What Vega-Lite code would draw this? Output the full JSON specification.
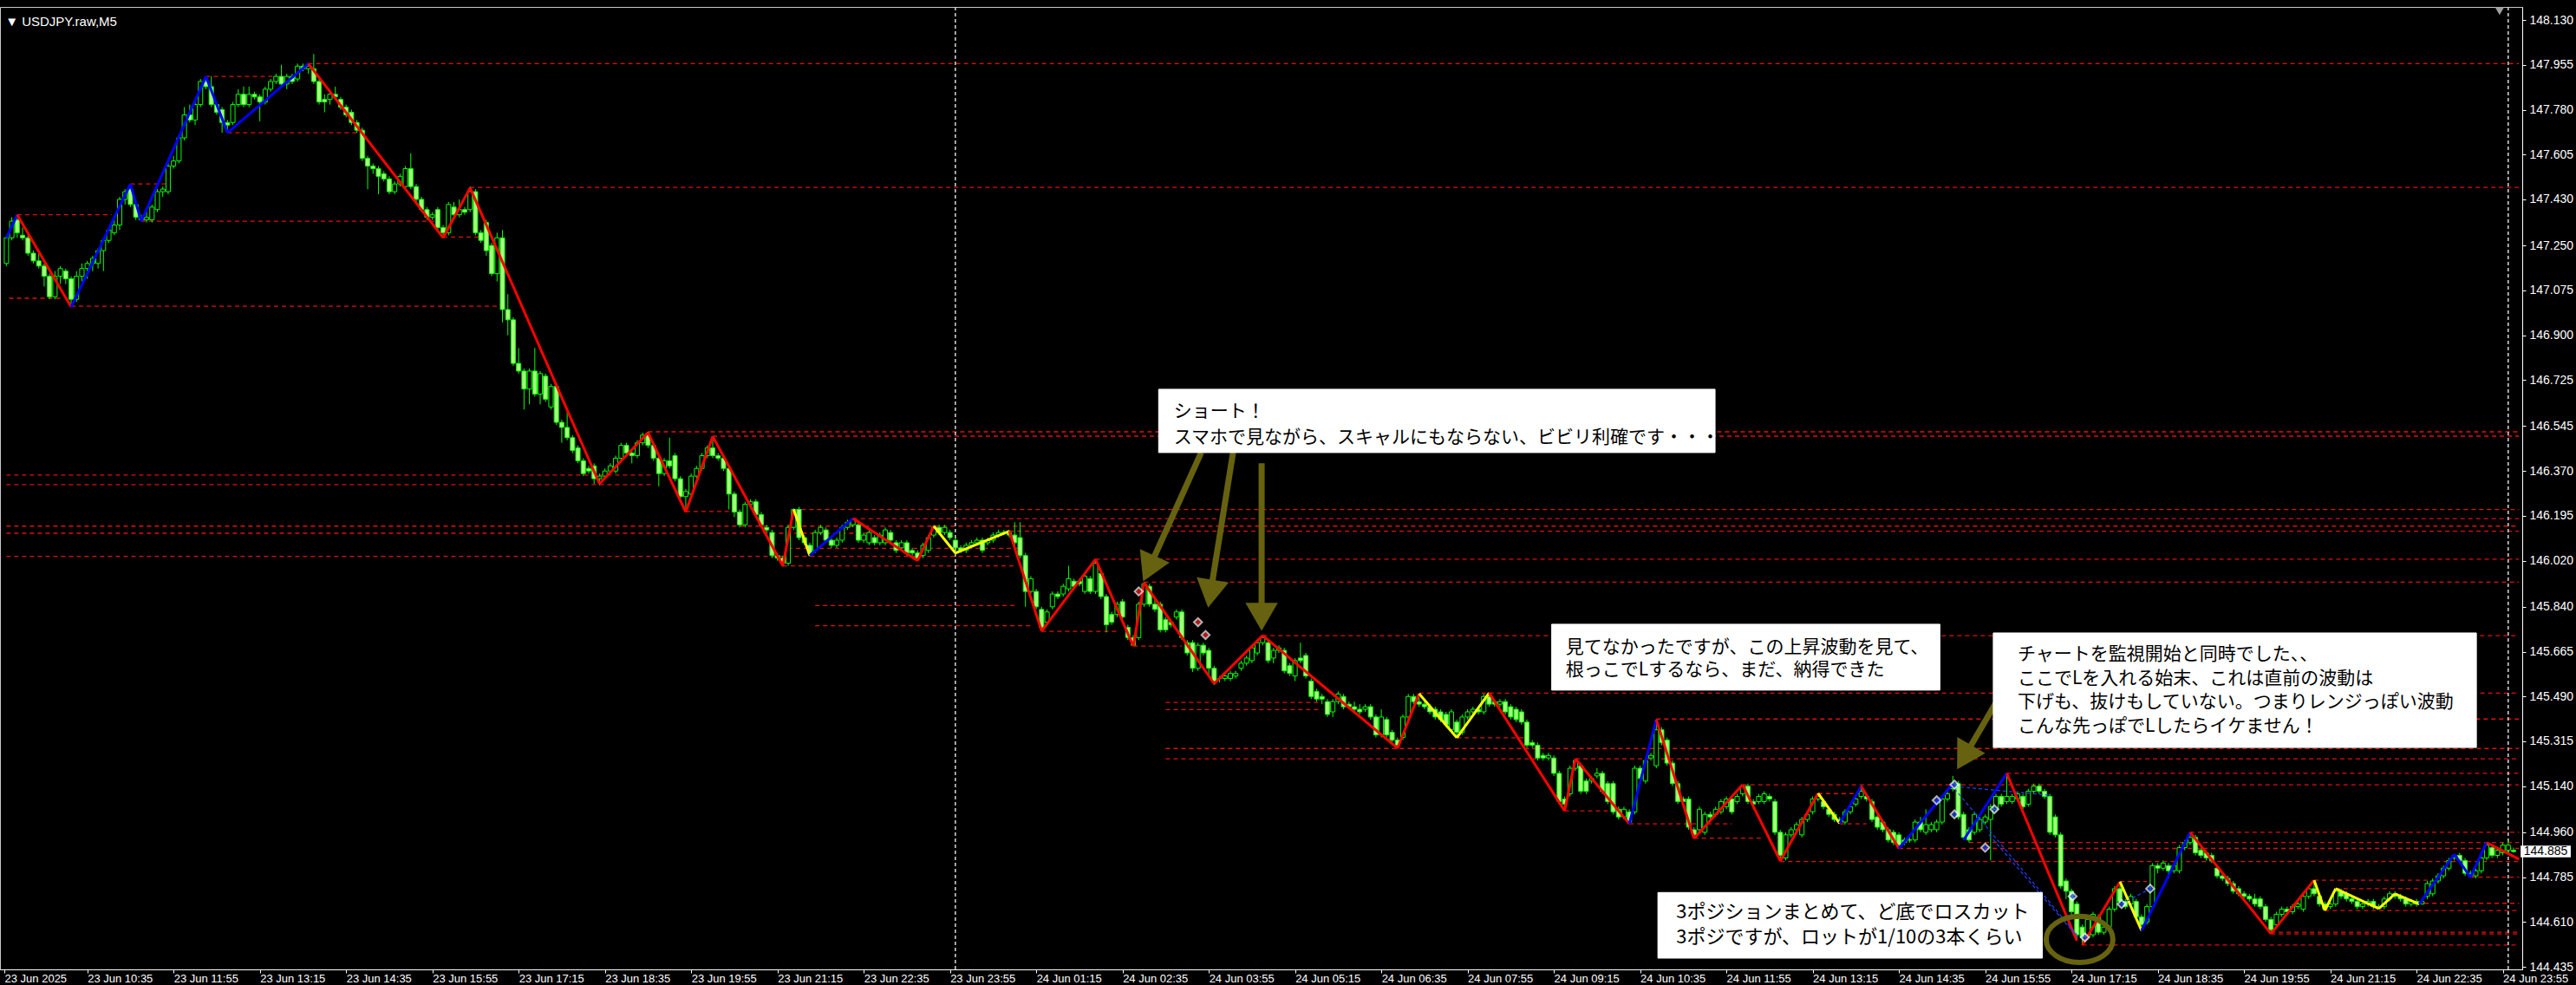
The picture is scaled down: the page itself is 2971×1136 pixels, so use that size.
{
"$schema":"https://vega.github.io/schema/vega-lite/v6.json",
"width":2909,"height":1110,
"autosize":{"type":"none"},
"padding":{"left":0,"top":8,"right":62,"bottom":18},
"background":"#000000",
"view":{"stroke":"#c8c8c8","strokeWidth":1},
"config":{"axis":{"grid":false}},
"datasets":{
"cd":[
{"i":0,"o":147.18,"h":147.29,"l":147.17,"c":147.28},{"i":1,"o":147.28,"h":147.36,"l":147.27,"c":147.345},{"i":2,"o":147.35,"h":147.37,"l":147.28,"c":147.30},{"i":3,"o":147.29,"h":147.32,"l":147.27,"c":147.28},{"i":4,"o":147.28,"h":147.30,"l":147.21,"c":147.22},{"i":5,"o":147.22,"h":147.23,"l":147.18,"c":147.19},{"i":6,"o":147.19,"h":147.23,"l":147.16,"c":147.17},{"i":7,"o":147.17,"h":147.18,"l":147.09,"c":147.13},{"i":8,"o":147.13,"h":147.14,"l":147.04,"c":147.05},{"i":9,"o":147.05,"h":147.15,"l":147.04,"c":147.13},
{"i":10,"o":147.13,"h":147.17,"l":147.10,"c":147.16},{"i":11,"o":147.15,"h":147.16,"l":147.10,"c":147.12},{"i":12,"o":147.12,"h":147.13,"l":147.01,"c":147.04},{"i":13,"o":147.04,"h":147.15,"l":147.03,"c":147.13},{"i":14,"o":147.13,"h":147.18,"l":147.11,"c":147.16},{"i":15,"o":147.16,"h":147.19,"l":147.12,"c":147.18},{"i":16,"o":147.18,"h":147.21,"l":147.15,"c":147.20},{"i":17,"o":147.18,"h":147.24,"l":147.16,"c":147.23},{"i":18,"o":147.23,"h":147.28,"l":147.15,"c":147.27},{"i":19,"o":147.27,"h":147.32,"l":147.26,"c":147.31},
{"i":20,"o":147.30,"h":147.35,"l":147.29,"c":147.33},{"i":21,"o":147.33,"h":147.44,"l":147.31,"c":147.43},{"i":22,"o":147.43,"h":147.47,"l":147.41,"c":147.46},{"i":23,"o":147.47,"h":147.49,"l":147.40,"c":147.41},{"i":24,"o":147.41,"h":147.42,"l":147.35,"c":147.36},{"i":25,"o":147.36,"h":147.37,"l":147.345,"c":147.35},{"i":26,"o":147.35,"h":147.38,"l":147.34,"c":147.36},{"i":27,"o":147.35,"h":147.41,"l":147.34,"c":147.40},{"i":28,"o":147.39,"h":147.47,"l":147.38,"c":147.46},{"i":29,"o":147.46,"h":147.48,"l":147.44,"c":147.47},
{"i":30,"o":147.46,"h":147.57,"l":147.45,"c":147.56},{"i":31,"o":147.56,"h":147.60,"l":147.55,"c":147.58},{"i":32,"o":147.58,"h":147.68,"l":147.57,"c":147.67},{"i":33,"o":147.67,"h":147.79,"l":147.66,"c":147.76},{"i":34,"o":147.76,"h":147.80,"l":147.73,"c":147.74},{"i":35,"o":147.74,"h":147.81,"l":147.72,"c":147.80},{"i":36,"o":147.80,"h":147.90,"l":147.79,"c":147.89},{"i":37,"o":147.89,"h":147.91,"l":147.86,"c":147.87},{"i":38,"o":147.87,"h":147.91,"l":147.79,"c":147.80},{"i":39,"o":147.80,"h":147.81,"l":147.76,"c":147.77},
{"i":40,"o":147.78,"h":147.79,"l":147.69,"c":147.73},{"i":41,"o":147.73,"h":147.74,"l":147.69,"c":147.72},{"i":42,"o":147.73,"h":147.81,"l":147.72,"c":147.80},{"i":43,"o":147.80,"h":147.86,"l":147.79,"c":147.84},{"i":44,"o":147.84,"h":147.87,"l":147.79,"c":147.80},{"i":45,"o":147.80,"h":147.87,"l":147.79,"c":147.84},{"i":46,"o":147.84,"h":147.85,"l":147.82,"c":147.83},{"i":47,"o":147.83,"h":147.84,"l":147.735,"c":147.81},{"i":48,"o":147.81,"h":147.87,"l":147.80,"c":147.86},{"i":49,"o":147.86,"h":147.90,"l":147.85,"c":147.89},
{"i":50,"o":147.89,"h":147.92,"l":147.88,"c":147.91},{"i":51,"o":147.91,"h":147.955,"l":147.87,"c":147.88},{"i":52,"o":147.88,"h":147.92,"l":147.86,"c":147.91},{"i":53,"o":147.91,"h":147.92,"l":147.88,"c":147.89},{"i":54,"o":147.90,"h":147.96,"l":147.89,"c":147.95},{"i":55,"o":147.95,"h":147.96,"l":147.93,"c":147.94},{"i":56,"o":147.94,"h":147.96,"l":147.92,"c":147.95},{"i":57,"o":147.94,"h":147.997,"l":147.88,"c":147.89},{"i":58,"o":147.89,"h":147.90,"l":147.80,"c":147.81},{"i":59,"o":147.82,"h":147.84,"l":147.77,"c":147.81},
{"i":60,"o":147.82,"h":147.86,"l":147.80,"c":147.84},{"i":61,"o":147.84,"h":147.87,"l":147.82,"c":147.83},{"i":62,"o":147.82,"h":147.83,"l":147.78,"c":147.79},{"i":63,"o":147.79,"h":147.80,"l":147.75,"c":147.76},{"i":64,"o":147.77,"h":147.78,"l":147.72,"c":147.73},{"i":65,"o":147.73,"h":147.74,"l":147.69,"c":147.70},{"i":66,"o":147.70,"h":147.71,"l":147.58,"c":147.59},{"i":67,"o":147.59,"h":147.60,"l":147.47,"c":147.56},{"i":68,"o":147.56,"h":147.57,"l":147.53,"c":147.55},{"i":69,"o":147.55,"h":147.56,"l":147.45,"c":147.52},
{"i":70,"o":147.53,"h":147.54,"l":147.50,"c":147.51},{"i":71,"o":147.51,"h":147.52,"l":147.45,"c":147.46},{"i":72,"o":147.46,"h":147.50,"l":147.45,"c":147.49},{"i":73,"o":147.49,"h":147.53,"l":147.48,"c":147.52},{"i":74,"o":147.48,"h":147.56,"l":147.47,"c":147.55},{"i":75,"o":147.55,"h":147.61,"l":147.47,"c":147.48},{"i":76,"o":147.48,"h":147.49,"l":147.42,"c":147.43},{"i":77,"o":147.43,"h":147.44,"l":147.38,"c":147.39},{"i":78,"o":147.39,"h":147.40,"l":147.35,"c":147.36},{"i":79,"o":147.36,"h":147.38,"l":147.35,"c":147.37},
{"i":80,"o":147.39,"h":147.40,"l":147.31,"c":147.32},{"i":81,"o":147.32,"h":147.33,"l":147.28,"c":147.30},{"i":82,"o":147.30,"h":147.42,"l":147.29,"c":147.41},{"i":83,"o":147.40,"h":147.42,"l":147.36,"c":147.37},{"i":84,"o":147.37,"h":147.43,"l":147.36,"c":147.39},{"i":85,"o":147.39,"h":147.40,"l":147.37,"c":147.38},{"i":86,"o":147.39,"h":147.48,"l":147.38,"c":147.46},{"i":87,"o":147.46,"h":147.47,"l":147.29,"c":147.30},{"i":88,"o":147.30,"h":147.31,"l":147.26,"c":147.27},{"i":89,"o":147.34,"h":147.35,"l":147.21,"c":147.23},
{"i":90,"o":147.25,"h":147.26,"l":147.13,"c":147.14},{"i":91,"o":147.14,"h":147.30,"l":147.11,"c":147.28},{"i":92,"o":147.28,"h":147.31,"l":146.95,"c":147.00},{"i":93,"o":147.00,"h":147.06,"l":146.90,"c":146.96},{"i":94,"o":146.96,"h":146.97,"l":146.78,"c":146.79},{"i":95,"o":146.79,"h":146.85,"l":146.75,"c":146.76},{"i":96,"o":146.76,"h":146.77,"l":146.61,"c":146.69},{"i":97,"o":146.69,"h":146.77,"l":146.63,"c":146.76},{"i":98,"o":146.76,"h":146.85,"l":146.66,"c":146.67},{"i":99,"o":146.67,"h":146.76,"l":146.63,"c":146.75},
{"i":100,"o":146.74,"h":146.75,"l":146.64,"c":146.65},{"i":101,"o":146.62,"h":146.71,"l":146.61,"c":146.70},{"i":102,"o":146.70,"h":146.71,"l":146.55,"c":146.56},{"i":103,"o":146.56,"h":146.57,"l":146.48,"c":146.54},{"i":104,"o":146.54,"h":146.60,"l":146.49,"c":146.50},{"i":105,"o":146.50,"h":146.51,"l":146.44,"c":146.45},{"i":106,"o":146.46,"h":146.47,"l":146.40,"c":146.41},{"i":107,"o":146.41,"h":146.42,"l":146.35,"c":146.36},{"i":108,"o":146.38,"h":146.39,"l":146.36,"c":146.37},{"i":109,"o":146.39,"h":146.40,"l":146.32,"c":146.34},
{"i":110,"o":146.34,"h":146.36,"l":146.315,"c":146.35},{"i":111,"o":146.35,"h":146.38,"l":146.34,"c":146.37},{"i":112,"o":146.37,"h":146.40,"l":146.36,"c":146.39},{"i":113,"o":146.37,"h":146.43,"l":146.36,"c":146.42},{"i":114,"o":146.42,"h":146.48,"l":146.41,"c":146.47},{"i":115,"o":146.47,"h":146.48,"l":146.43,"c":146.44},{"i":116,"o":146.44,"h":146.45,"l":146.40,"c":146.43},{"i":117,"o":146.43,"h":146.49,"l":146.42,"c":146.48},{"i":118,"o":146.48,"h":146.52,"l":146.47,"c":146.51},{"i":119,"o":146.51,"h":146.523,"l":146.46,"c":146.47},
{"i":120,"o":146.47,"h":146.48,"l":146.41,"c":146.42},{"i":121,"o":146.42,"h":146.43,"l":146.31,"c":146.36},{"i":122,"o":146.36,"h":146.42,"l":146.35,"c":146.41},{"i":123,"o":146.41,"h":146.50,"l":146.38,"c":146.39},{"i":124,"o":146.43,"h":146.44,"l":146.33,"c":146.34},{"i":125,"o":146.34,"h":146.35,"l":146.26,"c":146.27},{"i":126,"o":146.27,"h":146.30,"l":146.21,"c":146.29},{"i":127,"o":146.28,"h":146.36,"l":146.27,"c":146.35},{"i":128,"o":146.35,"h":146.39,"l":146.34,"c":146.38},{"i":129,"o":146.38,"h":146.44,"l":146.37,"c":146.43},
{"i":130,"o":146.43,"h":146.47,"l":146.42,"c":146.46},{"i":131,"o":146.46,"h":146.506,"l":146.42,"c":146.43},{"i":132,"o":146.43,"h":146.44,"l":146.41,"c":146.42},{"i":133,"o":146.42,"h":146.43,"l":146.37,"c":146.38},{"i":134,"o":146.38,"h":146.39,"l":146.22,"c":146.28},{"i":135,"o":146.28,"h":146.29,"l":146.19,"c":146.21},{"i":136,"o":146.21,"h":146.22,"l":146.15,"c":146.16},{"i":137,"o":146.16,"h":146.25,"l":146.15,"c":146.24},{"i":138,"o":146.24,"h":146.26,"l":146.23,"c":146.25},{"i":139,"o":146.25,"h":146.26,"l":146.19,"c":146.20},
{"i":140,"o":146.20,"h":146.21,"l":146.15,"c":146.16},{"i":141,"o":146.15,"h":146.16,"l":146.13,"c":146.14},{"i":142,"o":146.13,"h":146.14,"l":146.03,"c":146.04},{"i":143,"o":146.04,"h":146.05,"l":146.02,"c":146.03},{"i":144,"o":146.03,"h":146.04,"l":145.997,"c":146.01},{"i":145,"o":146.01,"h":146.16,"l":146.00,"c":146.15},{"i":146,"o":146.15,"h":146.225,"l":146.14,"c":146.22},{"i":147,"o":146.22,"h":146.23,"l":146.10,"c":146.11},{"i":148,"o":146.11,"h":146.12,"l":146.08,"c":146.09},{"i":149,"o":146.08,"h":146.09,"l":146.036,"c":146.05},
{"i":150,"o":146.06,"h":146.14,"l":146.05,"c":146.13},{"i":151,"o":146.13,"h":146.16,"l":146.12,"c":146.15},{"i":152,"o":146.14,"h":146.15,"l":146.09,"c":146.10},{"i":153,"o":146.10,"h":146.11,"l":146.07,"c":146.08},{"i":154,"o":146.08,"h":146.11,"l":146.07,"c":146.10},{"i":155,"o":146.10,"h":146.16,"l":146.09,"c":146.15},{"i":156,"o":146.15,"h":146.18,"l":146.14,"c":146.17},{"i":157,"o":146.16,"h":146.185,"l":146.15,"c":146.18},{"i":158,"o":146.16,"h":146.17,"l":146.09,"c":146.10},{"i":159,"o":146.10,"h":146.13,"l":146.09,"c":146.12},
{"i":160,"o":146.09,"h":146.14,"l":146.08,"c":146.13},{"i":161,"o":146.11,"h":146.12,"l":146.08,"c":146.09},{"i":162,"o":146.09,"h":146.13,"l":146.08,"c":146.12},{"i":163,"o":146.09,"h":146.15,"l":146.08,"c":146.14},{"i":164,"o":146.13,"h":146.14,"l":146.09,"c":146.10},{"i":165,"o":146.09,"h":146.10,"l":146.05,"c":146.06},{"i":166,"o":146.07,"h":146.10,"l":146.06,"c":146.09},{"i":167,"o":146.09,"h":146.10,"l":146.04,"c":146.05},{"i":168,"o":146.06,"h":146.07,"l":146.04,"c":146.05},{"i":169,"o":146.05,"h":146.06,"l":146.02,"c":146.03},
{"i":170,"o":146.04,"h":146.09,"l":146.03,"c":146.08},{"i":171,"o":146.06,"h":146.12,"l":146.05,"c":146.11},{"i":172,"o":146.12,"h":146.16,"l":146.11,"c":146.15},{"i":173,"o":146.15,"h":146.16,"l":146.12,"c":146.13},{"i":174,"o":146.13,"h":146.16,"l":146.12,"c":146.15},{"i":175,"o":146.13,"h":146.14,"l":146.10,"c":146.11},{"i":176,"o":146.10,"h":146.11,"l":146.05,"c":146.07},{"i":177,"o":146.07,"h":146.08,"l":146.05,"c":146.06},{"i":178,"o":146.06,"h":146.09,"l":146.05,"c":146.08},{"i":179,"o":146.08,"h":146.10,"l":146.07,"c":146.09},
{"i":180,"o":146.09,"h":146.11,"l":146.08,"c":146.10},{"i":181,"o":146.10,"h":146.11,"l":146.05,"c":146.06},{"i":182,"o":146.09,"h":146.11,"l":146.08,"c":146.10},{"i":183,"o":146.10,"h":146.13,"l":146.09,"c":146.12},{"i":184,"o":146.12,"h":146.14,"l":146.11,"c":146.13},{"i":185,"o":146.13,"h":146.14,"l":146.12,"c":146.13},{"i":186,"o":146.13,"h":146.14,"l":146.11,"c":146.12},{"i":187,"o":146.12,"h":146.17,"l":146.08,"c":146.09},{"i":188,"o":146.11,"h":146.17,"l":146.03,"c":146.04},{"i":189,"o":146.04,"h":146.05,"l":145.84,"c":145.90},
{"i":190,"o":145.90,"h":145.96,"l":145.89,"c":145.95},{"i":191,"o":145.90,"h":145.91,"l":145.83,"c":145.84},{"i":192,"o":145.83,"h":145.84,"l":145.744,"c":145.76},{"i":193,"o":145.78,"h":145.83,"l":145.77,"c":145.82},{"i":194,"o":145.84,"h":145.90,"l":145.83,"c":145.89},{"i":195,"o":145.89,"h":145.90,"l":145.87,"c":145.88},{"i":196,"o":145.89,"h":145.93,"l":145.88,"c":145.92},{"i":197,"o":145.91,"h":146.00,"l":145.90,"c":145.95},{"i":198,"o":145.94,"h":145.95,"l":145.91,"c":145.92},{"i":199,"o":145.94,"h":145.95,"l":145.92,"c":145.93},
{"i":200,"o":145.90,"h":145.97,"l":145.89,"c":145.96},{"i":201,"o":145.95,"h":145.96,"l":145.89,"c":145.90},{"i":202,"o":145.90,"h":146.026,"l":145.89,"c":146.01},{"i":203,"o":145.97,"h":145.98,"l":145.87,"c":145.88},{"i":204,"o":145.88,"h":145.89,"l":145.74,"c":145.77},{"i":205,"o":145.81,"h":145.82,"l":145.77,"c":145.78},{"i":206,"o":145.81,"h":145.86,"l":145.80,"c":145.85},{"i":207,"o":145.86,"h":145.87,"l":145.79,"c":145.80},{"i":208,"o":145.76,"h":145.77,"l":145.71,"c":145.72},{"i":209,"o":145.72,"h":145.73,"l":145.687,"c":145.69},
{"i":210,"o":145.72,"h":145.86,"l":145.71,"c":145.85},{"i":211,"o":145.85,"h":145.936,"l":145.84,"c":145.93},{"i":212,"o":145.92,"h":145.93,"l":145.84,"c":145.85},{"i":213,"o":145.85,"h":145.87,"l":145.82,"c":145.83},{"i":214,"o":145.85,"h":145.86,"l":145.74,"c":145.75},{"i":215,"o":145.79,"h":145.80,"l":145.74,"c":145.75},{"i":216,"o":145.78,"h":145.79,"l":145.76,"c":145.77},{"i":217,"o":145.80,"h":145.83,"l":145.79,"c":145.82},{"i":218,"o":145.82,"h":145.83,"l":145.71,"c":145.72},{"i":219,"o":145.70,"h":145.71,"l":145.65,"c":145.66},
{"i":220,"o":145.70,"h":145.71,"l":145.586,"c":145.60},{"i":221,"o":145.60,"h":145.70,"l":145.59,"c":145.69},{"i":222,"o":145.69,"h":145.70,"l":145.65,"c":145.66},{"i":223,"o":145.67,"h":145.68,"l":145.57,"c":145.60},{"i":224,"o":145.60,"h":145.61,"l":145.535,"c":145.55},{"i":225,"o":145.56,"h":145.57,"l":145.545,"c":145.56},{"i":226,"o":145.56,"h":145.58,"l":145.55,"c":145.57},{"i":227,"o":145.56,"h":145.59,"l":145.55,"c":145.58},{"i":228,"o":145.57,"h":145.59,"l":145.56,"c":145.58},{"i":229,"o":145.60,"h":145.63,"l":145.59,"c":145.62},
{"i":230,"o":145.62,"h":145.65,"l":145.61,"c":145.64},{"i":231,"o":145.63,"h":145.69,"l":145.62,"c":145.68},{"i":232,"o":145.66,"h":145.71,"l":145.65,"c":145.70},{"i":233,"o":145.70,"h":145.728,"l":145.69,"c":145.72},{"i":234,"o":145.70,"h":145.71,"l":145.62,"c":145.63},{"i":235,"o":145.64,"h":145.68,"l":145.62,"c":145.67},{"i":236,"o":145.67,"h":145.69,"l":145.66,"c":145.68},{"i":237,"o":145.67,"h":145.68,"l":145.58,"c":145.59},{"i":238,"o":145.61,"h":145.62,"l":145.57,"c":145.58},{"i":239,"o":145.57,"h":145.64,"l":145.55,"c":145.63},
{"i":240,"o":145.64,"h":145.70,"l":145.62,"c":145.63},{"i":241,"o":145.65,"h":145.66,"l":145.56,"c":145.57},{"i":242,"o":145.55,"h":145.56,"l":145.48,"c":145.49},{"i":243,"o":145.51,"h":145.52,"l":145.47,"c":145.48},{"i":244,"o":145.49,"h":145.50,"l":145.46,"c":145.48},{"i":245,"o":145.47,"h":145.48,"l":145.41,"c":145.42},{"i":246,"o":145.43,"h":145.48,"l":145.41,"c":145.47},{"i":247,"o":145.47,"h":145.51,"l":145.46,"c":145.50},{"i":248,"o":145.49,"h":145.50,"l":145.44,"c":145.45},{"i":249,"o":145.46,"h":145.47,"l":145.44,"c":145.45},
{"i":250,"o":145.45,"h":145.47,"l":145.43,"c":145.44},{"i":251,"o":145.44,"h":145.46,"l":145.42,"c":145.43},{"i":252,"o":145.44,"h":145.46,"l":145.43,"c":145.45},{"i":253,"o":145.45,"h":145.46,"l":145.40,"c":145.41},{"i":254,"o":145.41,"h":145.42,"l":145.33,"c":145.34},{"i":255,"o":145.34,"h":145.44,"l":145.33,"c":145.41},{"i":256,"o":145.40,"h":145.41,"l":145.33,"c":145.34},{"i":257,"o":145.35,"h":145.36,"l":145.31,"c":145.32},{"i":258,"o":145.32,"h":145.33,"l":145.287,"c":145.30},{"i":259,"o":145.33,"h":145.42,"l":145.32,"c":145.41},
{"i":260,"o":145.41,"h":145.50,"l":145.40,"c":145.49},{"i":261,"o":145.49,"h":145.50,"l":145.46,"c":145.47},{"i":262,"o":145.47,"h":145.501,"l":145.45,"c":145.46},{"i":263,"o":145.46,"h":145.47,"l":145.44,"c":145.45},{"i":264,"o":145.45,"h":145.46,"l":145.42,"c":145.43},{"i":265,"o":145.44,"h":145.45,"l":145.40,"c":145.41},{"i":266,"o":145.43,"h":145.44,"l":145.39,"c":145.40},{"i":267,"o":145.42,"h":145.43,"l":145.37,"c":145.38},{"i":268,"o":145.36,"h":145.44,"l":145.35,"c":145.43},{"i":269,"o":145.39,"h":145.40,"l":145.329,"c":145.35},
{"i":270,"o":145.35,"h":145.42,"l":145.34,"c":145.41},{"i":271,"o":145.41,"h":145.44,"l":145.40,"c":145.43},{"i":272,"o":145.43,"h":145.45,"l":145.42,"c":145.44},{"i":273,"o":145.44,"h":145.45,"l":145.42,"c":145.43},{"i":274,"o":145.43,"h":145.50,"l":145.42,"c":145.49},{"i":275,"o":145.49,"h":145.504,"l":145.45,"c":145.46},{"i":276,"o":145.47,"h":145.48,"l":145.45,"c":145.46},{"i":277,"o":145.46,"h":145.48,"l":145.45,"c":145.47},{"i":278,"o":145.47,"h":145.48,"l":145.42,"c":145.43},{"i":279,"o":145.45,"h":145.46,"l":145.40,"c":145.41},
{"i":280,"o":145.44,"h":145.45,"l":145.39,"c":145.40},{"i":281,"o":145.43,"h":145.44,"l":145.38,"c":145.39},{"i":282,"o":145.39,"h":145.40,"l":145.29,"c":145.30},{"i":283,"o":145.31,"h":145.32,"l":145.29,"c":145.30},{"i":284,"o":145.30,"h":145.31,"l":145.24,"c":145.25},{"i":285,"o":145.26,"h":145.27,"l":145.24,"c":145.25},{"i":286,"o":145.25,"h":145.27,"l":145.24,"c":145.26},{"i":287,"o":145.25,"h":145.26,"l":145.18,"c":145.19},{"i":288,"o":145.19,"h":145.20,"l":145.07,"c":145.08},{"i":289,"o":145.09,"h":145.10,"l":145.044,"c":145.07},
{"i":290,"o":145.11,"h":145.22,"l":145.10,"c":145.21},{"i":291,"o":145.21,"h":145.247,"l":145.20,"c":145.24},{"i":292,"o":145.22,"h":145.23,"l":145.11,"c":145.12},{"i":293,"o":145.16,"h":145.17,"l":145.11,"c":145.12},{"i":294,"o":145.16,"h":145.18,"l":145.15,"c":145.17},{"i":295,"o":145.18,"h":145.21,"l":145.17,"c":145.19},{"i":296,"o":145.19,"h":145.20,"l":145.11,"c":145.12},{"i":297,"o":145.15,"h":145.16,"l":145.07,"c":145.08},{"i":298,"o":145.15,"h":145.16,"l":145.03,"c":145.04},{"i":299,"o":145.05,"h":145.06,"l":145.01,"c":145.02},
{"i":300,"o":145.02,"h":145.06,"l":145.01,"c":145.05},{"i":301,"o":145.04,"h":145.05,"l":144.993,"c":145.00},{"i":302,"o":145.04,"h":145.22,"l":145.03,"c":145.21},{"i":303,"o":145.21,"h":145.22,"l":145.16,"c":145.17},{"i":304,"o":145.16,"h":145.25,"l":145.15,"c":145.24},{"i":305,"o":145.25,"h":145.27,"l":145.24,"c":145.26},{"i":306,"o":145.22,"h":145.40,"l":145.21,"c":145.36},{"i":307,"o":145.36,"h":145.37,"l":145.30,"c":145.31},{"i":308,"o":145.32,"h":145.33,"l":145.22,"c":145.23},{"i":309,"o":145.23,"h":145.24,"l":145.14,"c":145.15},
{"i":310,"o":145.15,"h":145.16,"l":145.07,"c":145.08},{"i":311,"o":145.09,"h":145.10,"l":145.07,"c":145.08},{"i":312,"o":145.09,"h":145.10,"l":144.97,"c":144.98},{"i":313,"o":144.97,"h":144.98,"l":144.936,"c":144.95},{"i":314,"o":144.97,"h":145.06,"l":144.96,"c":145.05},{"i":315,"o":144.96,"h":145.04,"l":144.95,"c":145.03},{"i":316,"o":145.03,"h":145.04,"l":145.01,"c":145.02},{"i":317,"o":145.03,"h":145.06,"l":145.02,"c":145.05},{"i":318,"o":145.04,"h":145.09,"l":145.03,"c":145.08},{"i":319,"o":145.06,"h":145.10,"l":145.05,"c":145.09},
{"i":320,"o":145.09,"h":145.10,"l":145.03,"c":145.04},{"i":321,"o":145.08,"h":145.11,"l":145.07,"c":145.10},{"i":322,"o":145.11,"h":145.146,"l":145.10,"c":145.14},{"i":323,"o":145.14,"h":145.15,"l":145.07,"c":145.08},{"i":324,"o":145.08,"h":145.09,"l":145.05,"c":145.07},{"i":325,"o":145.08,"h":145.11,"l":145.07,"c":145.10},{"i":326,"o":145.08,"h":145.12,"l":145.07,"c":145.11},{"i":327,"o":145.10,"h":145.11,"l":145.08,"c":145.09},{"i":328,"o":145.08,"h":145.09,"l":144.95,"c":144.96},{"i":329,"o":144.96,"h":144.97,"l":144.848,"c":144.87},
{"i":330,"o":144.86,"h":144.96,"l":144.85,"c":144.95},{"i":331,"o":144.95,"h":144.98,"l":144.94,"c":144.97},{"i":332,"o":144.97,"h":145.00,"l":144.96,"c":144.99},{"i":333,"o":144.95,"h":145.02,"l":144.94,"c":145.01},{"i":334,"o":145.01,"h":145.04,"l":145.00,"c":145.03},{"i":335,"o":145.04,"h":145.10,"l":145.03,"c":145.09},{"i":336,"o":145.09,"h":145.112,"l":145.08,"c":145.10},{"i":337,"o":145.08,"h":145.09,"l":145.05,"c":145.06},{"i":338,"o":145.05,"h":145.06,"l":145.02,"c":145.03},{"i":339,"o":145.03,"h":145.04,"l":145.00,"c":145.01},
{"i":340,"o":145.01,"h":145.02,"l":144.995,"c":145.00},{"i":341,"o":145.00,"h":145.05,"l":144.99,"c":145.04},{"i":342,"o":145.04,"h":145.07,"l":145.03,"c":145.06},{"i":343,"o":145.07,"h":145.10,"l":145.06,"c":145.09},{"i":344,"o":145.10,"h":145.14,"l":145.09,"c":145.12},{"i":345,"o":145.10,"h":145.11,"l":145.08,"c":145.09},{"i":346,"o":145.08,"h":145.09,"l":145.00,"c":145.01},{"i":347,"o":145.02,"h":145.03,"l":144.97,"c":144.98},{"i":348,"o":145.00,"h":145.01,"l":144.96,"c":144.97},{"i":349,"o":144.97,"h":144.98,"l":144.92,"c":144.93},
{"i":350,"o":144.96,"h":144.97,"l":144.91,"c":144.92},{"i":351,"o":144.95,"h":144.96,"l":144.897,"c":144.91},{"i":352,"o":144.93,"h":144.94,"l":144.91,"c":144.92},{"i":353,"o":144.93,"h":144.94,"l":144.92,"c":144.93},{"i":354,"o":144.93,"h":145.01,"l":144.92,"c":145.00},{"i":355,"o":145.00,"h":145.02,"l":144.96,"c":144.97},{"i":356,"o":144.96,"h":145.05,"l":144.95,"c":144.99},{"i":357,"o":144.97,"h":145.00,"l":144.96,"c":144.99},{"i":358,"o":144.97,"h":145.01,"l":144.96,"c":145.00},{"i":359,"o":145.00,"h":145.10,"l":144.99,"c":145.09},
{"i":360,"o":145.09,"h":145.12,"l":145.08,"c":145.11},{"i":361,"o":145.13,"h":145.18,"l":145.12,"c":145.15},{"i":362,"o":145.15,"h":145.16,"l":145.01,"c":145.02},{"i":363,"o":145.03,"h":145.04,"l":144.93,"c":144.94},{"i":364,"o":144.97,"h":144.98,"l":144.92,"c":144.93},{"i":365,"o":144.96,"h":145.04,"l":144.95,"c":145.03},{"i":366,"o":144.97,"h":145.02,"l":144.96,"c":145.01},{"i":367,"o":145.00,"h":145.03,"l":144.99,"c":145.02},{"i":368,"o":145.01,"h":145.07,"l":144.85,"c":145.06},{"i":369,"o":145.05,"h":145.11,"l":145.04,"c":145.10},
{"i":370,"o":145.10,"h":145.11,"l":145.06,"c":145.07},{"i":371,"o":145.08,"h":145.19,"l":145.07,"c":145.10},{"i":372,"o":145.08,"h":145.11,"l":145.07,"c":145.10},{"i":373,"o":145.09,"h":145.12,"l":145.08,"c":145.11},{"i":374,"o":145.10,"h":145.11,"l":145.05,"c":145.06},{"i":375,"o":145.07,"h":145.13,"l":145.06,"c":145.12},{"i":376,"o":145.12,"h":145.15,"l":145.11,"c":145.14},{"i":377,"o":145.14,"h":145.15,"l":145.11,"c":145.12},{"i":378,"o":145.12,"h":145.13,"l":145.09,"c":145.10},{"i":379,"o":145.10,"h":145.11,"l":144.95,"c":144.96},
{"i":380,"o":145.02,"h":145.03,"l":144.94,"c":144.95},{"i":381,"o":144.95,"h":144.96,"l":144.74,"c":144.75},{"i":382,"o":144.77,"h":144.78,"l":144.70,"c":144.73},{"i":383,"o":144.73,"h":144.74,"l":144.63,"c":144.65},{"i":384,"o":144.68,"h":144.69,"l":144.537,"c":144.56},{"i":385,"o":144.59,"h":144.60,"l":144.52,"c":144.55},{"i":386,"o":144.55,"h":144.63,"l":144.54,"c":144.62},{"i":387,"o":144.56,"h":144.65,"l":144.55,"c":144.64},{"i":388,"o":144.63,"h":144.64,"l":144.56,"c":144.57},{"i":389,"o":144.57,"h":144.60,"l":144.56,"c":144.59},
{"i":390,"o":144.59,"h":144.67,"l":144.58,"c":144.66},{"i":391,"o":144.66,"h":144.75,"l":144.65,"c":144.74},{"i":392,"o":144.74,"h":144.767,"l":144.68,"c":144.69},{"i":393,"o":144.69,"h":144.70,"l":144.66,"c":144.67},{"i":394,"o":144.68,"h":144.72,"l":144.67,"c":144.71},{"i":395,"o":144.69,"h":144.70,"l":144.62,"c":144.63},{"i":396,"o":144.63,"h":144.64,"l":144.577,"c":144.60},{"i":397,"o":144.61,"h":144.68,"l":144.60,"c":144.67},{"i":398,"o":144.67,"h":144.84,"l":144.66,"c":144.83},{"i":399,"o":144.83,"h":144.84,"l":144.80,"c":144.82},
{"i":400,"o":144.82,"h":144.85,"l":144.81,"c":144.84},{"i":401,"o":144.83,"h":144.84,"l":144.78,"c":144.81},{"i":402,"o":144.81,"h":144.84,"l":144.80,"c":144.83},{"i":403,"o":144.81,"h":144.91,"l":144.80,"c":144.90},{"i":404,"o":144.90,"h":144.93,"l":144.89,"c":144.92},{"i":405,"o":144.92,"h":144.96,"l":144.91,"c":144.94},{"i":406,"o":144.94,"h":144.95,"l":144.87,"c":144.88},{"i":407,"o":144.89,"h":144.90,"l":144.86,"c":144.87},{"i":408,"o":144.88,"h":144.89,"l":144.85,"c":144.86},{"i":409,"o":144.87,"h":144.88,"l":144.84,"c":144.85},
{"i":410,"o":144.82,"h":144.83,"l":144.78,"c":144.79},{"i":411,"o":144.79,"h":144.80,"l":144.77,"c":144.78},{"i":412,"o":144.78,"h":144.79,"l":144.75,"c":144.76},{"i":413,"o":144.76,"h":144.77,"l":144.72,"c":144.73},{"i":414,"o":144.74,"h":144.75,"l":144.71,"c":144.72},{"i":415,"o":144.72,"h":144.73,"l":144.70,"c":144.71},{"i":416,"o":144.71,"h":144.72,"l":144.69,"c":144.70},{"i":417,"o":144.70,"h":144.72,"l":144.67,"c":144.68},{"i":418,"o":144.70,"h":144.71,"l":144.66,"c":144.67},{"i":419,"o":144.67,"h":144.68,"l":144.61,"c":144.62},
{"i":420,"o":144.62,"h":144.63,"l":144.564,"c":144.58},{"i":421,"o":144.60,"h":144.65,"l":144.59,"c":144.64},{"i":422,"o":144.64,"h":144.67,"l":144.63,"c":144.66},{"i":423,"o":144.66,"h":144.67,"l":144.64,"c":144.65},{"i":424,"o":144.65,"h":144.68,"l":144.64,"c":144.67},{"i":425,"o":144.67,"h":144.69,"l":144.66,"c":144.68},{"i":426,"o":144.66,"h":144.72,"l":144.65,"c":144.71},{"i":427,"o":144.71,"h":144.75,"l":144.70,"c":144.74},{"i":428,"o":144.74,"h":144.773,"l":144.71,"c":144.72},{"i":429,"o":144.71,"h":144.72,"l":144.67,"c":144.68},
{"i":430,"o":144.68,"h":144.69,"l":144.655,"c":144.66},{"i":431,"o":144.67,"h":144.69,"l":144.66,"c":144.68},{"i":432,"o":144.68,"h":144.74,"l":144.67,"c":144.73},{"i":433,"o":144.73,"h":144.74,"l":144.70,"c":144.71},{"i":434,"o":144.72,"h":144.73,"l":144.69,"c":144.70},{"i":435,"o":144.70,"h":144.71,"l":144.68,"c":144.69},{"i":436,"o":144.69,"h":144.70,"l":144.66,"c":144.67},{"i":437,"o":144.67,"h":144.69,"l":144.66,"c":144.68},{"i":438,"o":144.68,"h":144.70,"l":144.67,"c":144.69},{"i":439,"o":144.69,"h":144.70,"l":144.66,"c":144.67},
{"i":440,"o":144.67,"h":144.68,"l":144.66,"c":144.665},{"i":441,"o":144.67,"h":144.71,"l":144.66,"c":144.70},{"i":442,"o":144.70,"h":144.73,"l":144.69,"c":144.72},{"i":443,"o":144.72,"h":144.73,"l":144.70,"c":144.71},{"i":444,"o":144.71,"h":144.72,"l":144.69,"c":144.70},{"i":445,"o":144.70,"h":144.71,"l":144.67,"c":144.68},{"i":446,"o":144.68,"h":144.70,"l":144.67,"c":144.69},{"i":447,"o":144.69,"h":144.70,"l":144.67,"c":144.68},{"i":448,"o":144.68,"h":144.70,"l":144.68,"c":144.69},{"i":449,"o":144.71,"h":144.77,"l":144.70,"c":144.76},
{"i":450,"o":144.72,"h":144.78,"l":144.71,"c":144.77},{"i":451,"o":144.77,"h":144.80,"l":144.76,"c":144.79},{"i":452,"o":144.79,"h":144.83,"l":144.78,"c":144.82},{"i":453,"o":144.82,"h":144.86,"l":144.81,"c":144.85},{"i":454,"o":144.86,"h":144.875,"l":144.85,"c":144.87},{"i":455,"o":144.87,"h":144.88,"l":144.84,"c":144.85},{"i":456,"o":144.85,"h":144.86,"l":144.79,"c":144.80},{"i":457,"o":144.80,"h":144.81,"l":144.785,"c":144.79},{"i":458,"o":144.79,"h":144.82,"l":144.78,"c":144.81},{"i":459,"o":144.81,"h":144.87,"l":144.80,"c":144.86},
{"i":460,"o":144.86,"h":144.92,"l":144.85,"c":144.91},{"i":461,"o":144.90,"h":144.91,"l":144.86,"c":144.87},{"i":462,"o":144.87,"h":144.90,"l":144.86,"c":144.89},{"i":463,"o":144.88,"h":144.92,"l":144.87,"c":144.91},{"i":464,"o":144.89,"h":144.93,"l":144.88,"c":144.91},{"i":465,"o":144.89,"h":144.90,"l":144.88,"c":144.885}
],
"lv":[
{"p":147.96,"a":56,"b":466},{"p":147.91,"a":37,"b":50},{"p":147.69,"a":41,"b":65},{"p":147.477,"a":86,"b":466},{"p":147.37,"a":2,"b":19.5},{"p":147.49,"a":23,"b":29.5},{"p":147.345,"a":25,"b":80},{"p":147.283,"a":81,"b":88},{"p":147.044,"a":0.5,"b":10},{"p":147.013,"a":12,"b":91},
{"p":146.523,"a":119,"b":466},{"p":146.506,"a":131,"b":466},{"p":146.354,"a":0,"b":120},{"p":146.317,"a":0,"b":120},{"p":146.212,"a":126,"b":134},{"p":146.22,"a":146,"b":466},{"p":146.184,"a":157,"b":466},{"p":146.155,"a":0,"b":466},{"p":146.135,"a":186,"b":466},{"p":146.127,"a":0,"b":160},{"p":146.068,"a":145,"b":188},{"p":146.037,"a":0,"b":186},{"p":146.0,"a":144,"b":187},{"p":146.026,"a":202,"b":466},{"p":145.936,"a":211,"b":466},
{"p":145.845,"a":150,"b":187},{"p":145.766,"a":150,"b":190},{"p":145.744,"a":192,"b":206},{"p":145.687,"a":209,"b":218},{"p":145.727,"a":233,"b":466},{"p":145.503,"a":262,"b":466},{"p":145.467,"a":215,"b":244},{"p":145.439,"a":215,"b":244},{"p":145.402,"a":306,"b":466},{"p":145.329,"a":269,"b":282},{"p":145.287,"a":215,"b":466},{"p":145.247,"a":215,"b":284},{"p":145.247,"a":291,"b":466},{"p":145.044,"a":289,"b":297},{"p":144.993,"a":301,"b":320},
{"p":145.145,"a":322,"b":466},{"p":145.111,"a":336,"b":344},{"p":145.19,"a":371,"b":466},{"p":144.937,"a":313,"b":326},{"p":144.993,"a":340,"b":345},{"p":144.92,"a":364,"b":466},{"p":144.897,"a":351,"b":466},{"p":144.846,"a":329,"b":466},{"p":144.96,"a":405,"b":466},{"p":144.785,"a":457,"b":466},{"p":144.773,"a":428,"b":449},{"p":144.768,"a":392,"b":397},{"p":144.74,"a":432,"b":448},{"p":144.683,"a":447,"b":466},{"p":144.655,"a":430,"b":466},{"p":144.57,"a":420,"b":466},{"p":144.563,"a":420,"b":466},{"p":144.52,"a":385,"b":466}
],
"zz":[
{"i":0,"p":147.28,"j":2,"q":147.37,"k":"b"},{"i":2,"p":147.37,"j":12,"q":147.01,"k":"r"},{"i":12,"p":147.01,"j":23,"q":147.49,"k":"b"},{"i":23,"p":147.49,"j":25,"q":147.345,"k":"b"},{"i":25,"p":147.345,"j":37,"q":147.91,"k":"b"},{"i":37,"p":147.91,"j":41,"q":147.69,"k":"b"},{"i":41,"p":147.69,"j":56,"q":147.96,"k":"b"},{"i":56,"p":147.96,"j":81,"q":147.28,"k":"r"},{"i":81,"p":147.28,"j":86,"q":147.475,"k":"r"},{"i":86,"p":147.475,"j":110,"q":146.32,"k":"r"},
{"i":110,"p":146.32,"j":119,"q":146.52,"k":"r"},{"i":119,"p":146.52,"j":126,"q":146.21,"k":"r"},{"i":126,"p":146.21,"j":131,"q":146.505,"k":"r"},{"i":131,"p":146.505,"j":144,"q":146.0,"k":"r"},{"i":144,"p":146.0,"j":146,"q":146.22,"k":"r"},{"i":146,"p":146.22,"j":149,"q":146.04,"k":"y"},{"i":149,"p":146.04,"j":157,"q":146.185,"k":"b"},{"i":157,"p":146.185,"j":169,"q":146.02,"k":"r"},{"i":169,"p":146.02,"j":172,"q":146.155,"k":"r"},{"i":172,"p":146.155,"j":176,"q":146.05,"k":"y"},
{"i":176,"p":146.05,"j":186,"q":146.135,"k":"y"},{"i":186,"p":146.135,"j":192,"q":145.745,"k":"r"},{"i":192,"p":145.745,"j":202,"q":146.026,"k":"r"},{"i":202,"p":146.026,"j":209,"q":145.687,"k":"r"},{"i":209,"p":145.687,"j":211,"q":145.934,"k":"r"},{"i":211,"p":145.934,"j":224,"q":145.54,"k":"r"},{"i":224,"p":145.54,"j":233,"q":145.728,"k":"r"},{"i":233,"p":145.728,"j":258,"q":145.288,"k":"r"},{"i":258,"p":145.288,"j":262,"q":145.501,"k":"r"},{"i":262,"p":145.501,"j":269,"q":145.329,"k":"y"},
{"i":269,"p":145.329,"j":275,"q":145.504,"k":"y"},{"i":275,"p":145.504,"j":289,"q":145.044,"k":"r"},{"i":289,"p":145.044,"j":291,"q":145.247,"k":"r"},{"i":291,"p":145.247,"j":301,"q":144.993,"k":"r"},{"i":301,"p":144.993,"j":306,"q":145.40,"k":"b"},{"i":306,"p":145.40,"j":313,"q":144.936,"k":"r"},{"i":313,"p":144.936,"j":322,"q":145.146,"k":"r"},{"i":322,"p":145.146,"j":329,"q":144.848,"k":"r"},{"i":329,"p":144.848,"j":336,"q":145.112,"k":"r"},{"i":336,"p":145.112,"j":340,"q":144.995,"k":"y"},
{"i":340,"p":144.995,"j":344,"q":145.14,"k":"b"},{"i":344,"p":145.14,"j":351,"q":144.897,"k":"r"},{"i":351,"p":144.897,"j":361,"q":145.15,"k":"b"},{"i":363,"p":144.93,"j":371,"q":145.19,"k":"b"},{"i":371,"p":145.19,"j":384,"q":144.537,"k":"r"},{"i":385,"p":144.52,"j":392,"q":144.767,"k":"r"},{"i":392,"p":144.767,"j":396,"q":144.577,"k":"y"},{"i":396,"p":144.577,"j":405,"q":144.96,"k":"b"},{"i":405,"p":144.96,"j":420,"q":144.564,"k":"r"},{"i":420,"p":144.564,"j":428,"q":144.773,"k":"r"},
{"i":428,"p":144.773,"j":430,"q":144.655,"k":"y"},{"i":430,"p":144.655,"j":432,"q":144.74,"k":"y"},{"i":432,"p":144.74,"j":440,"q":144.662,"k":"y"},{"i":440,"p":144.662,"j":443,"q":144.72,"k":"y"},{"i":443,"p":144.72,"j":447.5,"q":144.68,"k":"y"},{"i":447.5,"p":144.68,"j":454,"q":144.875,"k":"b"},{"i":454,"p":144.875,"j":457,"q":144.785,"k":"b"},{"i":457,"p":144.785,"j":460,"q":144.92,"k":"b"},{"i":460,"p":144.92,"j":466,"q":144.855,"k":"r"}
],
"td":[
{"i":361.3,"p":145.139,"j":378.9,"q":145.105},{"i":367.7,"p":144.95,"j":384.2,"q":144.55},{"i":361.3,"p":145.13,"j":384,"q":144.56},{"i":392.3,"p":144.68,"j":397.6,"q":144.74}
],
"mk":[
{"i":210,"p":145.90,"k":"s"},{"i":221,"p":145.78,"k":"s"},{"i":222.4,"p":145.73,"k":"s"},
{"i":361.3,"p":145.146,"k":"l"},{"i":358,"p":145.085,"k":"l"},{"i":361.3,"p":145.03,"k":"l"},{"i":368.7,"p":145.05,"k":"l"},{"i":367,"p":144.90,"k":"l"},{"i":383.2,"p":144.71,"k":"l"},{"i":385.5,"p":144.55,"k":"l"},{"i":397.6,"p":144.74,"k":"l"},{"i":392.3,"p":144.68,"k":"l"}
],
"ar":[
{"i":221.6,"p":146.442,"j":211.9,"q":145.989,"a":204.3},{"i":227.5,"p":146.442,"j":223.3,"q":145.891,"a":189.3},{"i":232.8,"p":146.40,"j":232.8,"q":145.801,"a":180},{"i":370.6,"p":145.524,"j":363.1,"q":145.253,"a":210.3}
],
"bx":[
{"i":213.7,"p":146.689,"j":316.9,"q":146.442},{"i":286.6,"p":145.772,"j":358.6,"q":145.515},{"i":368.5,"p":145.738,"j":458.1,"q":145.291},{"i":306.3,"p":144.725,"j":377.6,"q":144.469}
],
"tx":[
{"i":216.5,"p":146.60,"t":"ショート！","g":1},
{"i":216.5,"p":146.50,"t":"スマホで見ながら、スキャルにもならない、ビビリ利確です・・・","g":1},
{"i":289.2,"p":145.68,"t":"見てなかったですが、この上昇波動を見て、","g":1},
{"i":289.2,"p":145.592,"t":"根っこでLするなら、まだ、納得できた","g":1},
{"i":373,"p":145.653,"t":"チャートを監視開始と同時でした、、","g":1},
{"i":373,"p":145.559,"t":"ここでLを入れる始末、これは直前の波動は","g":1},
{"i":373,"p":145.467,"t":"下げも、抜けもしていない。つまりレンジっぽい波動","g":1},
{"i":373,"p":145.372,"t":"こんな先っぽでLしたらイケません！","g":1},
{"i":309.7,"p":144.647,"t":"3ポジションまとめて、ど底でロスカット","g":2},
{"i":309.7,"p":144.551,"t":"3ポジですが、ロットが1/10の3本くらい","g":2}
]
},
"layer":[
{"data":{"name":"lv"},"mark":{"type":"rule","color":"#e01010","strokeWidth":1.3,"strokeDash":[5,4],"clip":true},
 "encoding":{"x":{"field":"a","type":"quantitative","title":null,"scale":{"domain":[-0.385,465.8],"nice":false,"zero":false},
   "axis":{"orient":"bottom","values":[-0.38,15,31,47,63,79,95,111,127,143,159,175,191,207,223,239,255,271,287,303,319,335,351,367,383,399,415,431,447,463],
     "labelExpr":"datum.value < 1 ? '23 Jun 2025' : timeFormat(datetime(2025, 5, 23, 9, 20 + datum.value * 5), '%d %b %H:%M')",
     "labelAlign":"left","labelBaseline":"top","labelPadding":0,"labelFont":"Liberation Sans","labelFontSize":13,"labelColor":"#ffffff","tickColor":"#ffffff","tickSize":4,"domainColor":"#ffffff","labelOverlap":false,"labelFlush":false,"labelBound":false}},
  "x2":{"field":"b"},
  "y":{"field":"p","type":"quantitative","title":null,"scale":{"domain":[144.425,148.181],"nice":false,"zero":false},
   "axis":{"orient":"right","values":[148.13,147.955,147.78,147.605,147.43,147.25,147.075,146.9,146.725,146.545,146.37,146.195,146.02,145.84,145.665,145.49,145.315,145.14,144.96,144.785,144.61,144.435],
     "format":".3f","labelFont":"Liberation Sans","labelFontSize":14,"labelColor":"#ffffff","tickColor":"#ffffff","tickSize":4,"labelPadding":4,"domainColor":"#ffffff","labelOverlap":false,"labelFlush":false,"labelBound":false}}}},
{"mark":{"type":"rule","color":"#a8a8b8","strokeWidth":1.5,"clip":true},"encoding":{"y":{"datum":144.885,"type":"quantitative"}}},
{"data":{"values":[{"i":176},{"i":464}]},"mark":{"type":"rule","color":"#d8d8d8","strokeWidth":1.5,"strokeDash":[4,3],"clip":true},"encoding":{"x":{"field":"i","type":"quantitative","title":null}}},
{"data":{"name":"cd"},"mark":{"type":"rule","color":"#00ff00","strokeWidth":1,"clip":true},
 "encoding":{"x":{"field":"i","type":"quantitative","title":null},"y":{"field":"l","type":"quantitative","title":null},"y2":{"field":"h"}}},
{"data":{"name":"cd"},"mark":{"type":"bar","width":5,"stroke":"#00ff00","strokeWidth":1,"clip":true},
 "encoding":{"x":{"field":"i","type":"quantitative","title":null},"y":{"field":"o","type":"quantitative","title":null},"y2":{"field":"c"},
  "fill":{"condition":{"test":"datum.c > datum.o","value":"#000000"},"value":"#a8ff7c"}}},
{"data":{"name":"zz"},"mark":{"type":"rule","strokeWidth":3,"clip":true},
 "encoding":{"x":{"field":"i","type":"quantitative","title":null},"y":{"field":"p","type":"quantitative","title":null},"x2":{"field":"j"},"y2":{"field":"q"},
  "color":{"field":"k","type":"nominal","scale":{"domain":["r","b","y"],"range":["#ff0000","#0000ff","#ffff00"]},"legend":null}}},
{"data":{"name":"td"},"mark":{"type":"rule","color":"#2040ff","strokeWidth":1.2,"strokeDash":[4,3],"clip":true},
 "encoding":{"x":{"field":"i","type":"quantitative","title":null},"y":{"field":"p","type":"quantitative","title":null},"x2":{"field":"j"},"y2":{"field":"q"}}},
{"data":{"name":"mk"},"mark":{"type":"point","shape":"diamond","size":90,"filled":true,"stroke":"#ffffff","strokeWidth":2,"clip":true},
 "encoding":{"x":{"field":"i","type":"quantitative","title":null},"y":{"field":"p","type":"quantitative","title":null},
  "fill":{"field":"k","type":"nominal","scale":{"domain":["s","l"],"range":["#ff2020","#2040ff"]},"legend":null}}},
{"data":{"name":"ar"},"mark":{"type":"rule","color":"#66620f","strokeWidth":7},
 "encoding":{"x":{"field":"i","type":"quantitative","title":null},"y":{"field":"p","type":"quantitative","title":null},"x2":{"field":"j"},"y2":{"field":"q"}}},
{"data":{"name":"ar"},"mark":{"type":"point","shape":"triangle-up","size":1400,"filled":true,"color":"#66620f","opacity":1},
 "encoding":{"x":{"field":"j","type":"quantitative","title":null},"y":{"field":"q","type":"quantitative","title":null},"angle":{"field":"a","type":"quantitative","scale":null}}},
{"data":{"values":[{"i":384.5,"p":144.542}]},"mark":{"type":"point","shape":"M-1,0A1,0.69,0,1,1,1,0A1,0.69,0,1,1,-1,0Z","size":5929,"filled":false,"stroke":"#66620f","strokeWidth":6,"opacity":1},
 "encoding":{"x":{"field":"i","type":"quantitative","title":null},"y":{"field":"p","type":"quantitative","title":null}}},
{"data":{"values":[{"i":462.4,"p":148.165}]},"mark":{"type":"point","shape":"triangle-down","size":110,"filled":true,"color":"#a0a0a0","opacity":1,"clip":false},
 "encoding":{"x":{"field":"i","type":"quantitative","title":null},"y":{"field":"p","type":"quantitative","title":null}}},
{"data":{"name":"bx"},"mark":{"type":"rect","fill":"#ffffff","stroke":"#ffffff"},
 "encoding":{"x":{"field":"i","type":"quantitative","title":null},"y":{"field":"p","type":"quantitative","title":null},"x2":{"field":"j"},"y2":{"field":"q"}}},
{"data":{"name":"tx"},"transform":[{"filter":"datum.g == 1"}],"mark":{"type":"text","align":"left","baseline":"middle","font":"Noto Sans CJK JP","fontSize":21,"color":"#000000"},
 "encoding":{"x":{"field":"i","type":"quantitative","title":null},"y":{"field":"p","type":"quantitative","title":null},"text":{"field":"t"}}},
{"data":{"name":"tx"},"transform":[{"filter":"datum.g == 2"}],"mark":{"type":"text","align":"left","baseline":"middle","font":"Noto Sans CJK JP","fontSize":22,"color":"#000000"},
 "encoding":{"x":{"field":"i","type":"quantitative","title":null},"y":{"field":"p","type":"quantitative","title":null},"text":{"field":"t"}}},
{"data":{"values":[{"i":-0.2,"p":148.125,"t":"▼ USDJPY.raw,M5"}]},"mark":{"type":"text","align":"left","baseline":"middle","font":"Liberation Sans","fontSize":15,"color":"#ffffff"},
 "encoding":{"x":{"field":"i","type":"quantitative","title":null},"y":{"field":"p","type":"quantitative","title":null},"text":{"field":"t"}}},
{"data":{"values":[{"i":466.3,"p":144.862,"j":475.6,"q":144.908}]},"mark":{"type":"rect","fill":"#ffffff","clip":false},
 "encoding":{"x":{"field":"i","type":"quantitative","title":null},"y":{"field":"p","type":"quantitative","title":null},"x2":{"field":"j"},"y2":{"field":"q"}}},
{"data":{"values":[{"i":470.95,"p":144.885,"t":"144.885"}]},"mark":{"type":"text","align":"center","baseline":"middle","font":"Liberation Sans","fontSize":14,"color":"#000000","clip":false},
 "encoding":{"x":{"field":"i","type":"quantitative","title":null},"y":{"field":"p","type":"quantitative","title":null},"text":{"field":"t"}}}
]
}
